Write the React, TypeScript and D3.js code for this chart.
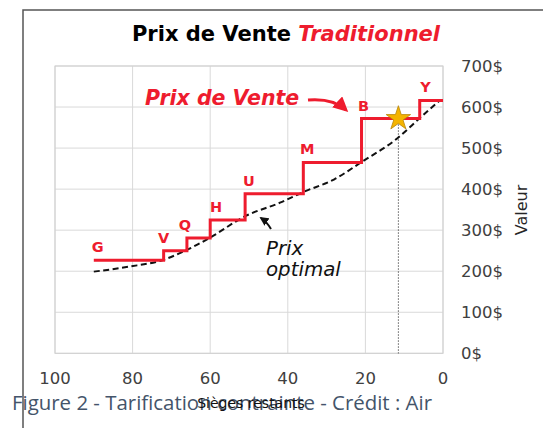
import React from "react";
import * as d3 from "d3";

// ---- data ----
const stepSeats = [90, 72, 66, 60, 51, 36, 21, 6, 0];
const stepValues = [227, 250, 281, 325, 389, 465, 572, 616];
const classLabels = ["G", "V", "Q", "H", "U", "M", "B", "Y"];
const labelSeats = [89, 72, 66.5, 58.5, 50, 35, 20.5, 4.5];

const optimalSeats = [90, 81, 72, 66, 60, 51, 42, 36, 28, 21, 12, 6, 1];
const optimalValues = [199, 211, 228, 252, 282, 334, 367, 393, 424, 466, 522, 573, 615];

const starSeat = 11.5;
const starValue = 572;

const xTicks = [100, 80, 60, 40, 20, 0];
const yTicks = [0, 100, 200, 300, 400, 500, 600, 700];

const RED = "#EE1C2E";
const FONT = "'DejaVu Sans', Verdana, sans-serif";

export default function App() {
  const W = 543, H = 428;
  const left = 55, right = 443, top = 66, bottom = 353.3;
  const x = d3.scaleLinear().domain([100, 0]).range([left, right]);
  const y = d3.scaleLinear().domain([0, 700]).range([bottom, top]);

  // step path
  const stepPts: [number, number][] = [];
  stepValues.forEach((v, i) => {
    stepPts.push([stepSeats[i], v]);
    stepPts.push([stepSeats[i + 1], v]);
  });
  const stepLine = d3
    .line<[number, number]>()
    .x((d) => x(d[0]))
    .y((d) => y(d[1]));
  const stepD = stepLine(stepPts) || "";

  const optLine = d3
    .line<number>()
    .x((_, i) => x(optimalSeats[i]))
    .y((d) => y(d))
    .curve(d3.curveMonotoneX);
  const optD = optLine(optimalValues) || "";

  const star = d3.symbol().type(d3.symbolStar).size(185)() || "";

  const sx = x(starSeat), sy = y(starValue);

  return (
    <svg
      width={W}
      height={H}
      style={{ position: "absolute", left: 0, top: 0, background: "#fff" }}
    >
      <defs>
        <marker id="ah-red" viewBox="0 0 10 10" refX="8" refY="5" markerWidth="5" markerHeight="5" orient="auto">
          <path d="M0,0 L10,5 L0,10 z" fill={RED} />
        </marker>
        <marker id="ah-black" viewBox="0 0 10 10" refX="8" refY="5" markerWidth="4.5" markerHeight="4.5" orient="auto">
          <path d="M0,0 L10,5 L0,10 z" fill="#111" />
        </marker>
      </defs>
      {/* frame */}
      <path d={`M23,428 L23,10 L543,10`} fill="none" stroke="#555" strokeWidth={1.5} />

      {/* title */}
      <text x={286} y={41} textAnchor="middle" fontFamily={FONT} fontSize={21} fontWeight="bold">
        <tspan fill="#000">Prix de Vente </tspan>
        <tspan fill={RED} fontStyle="italic">Traditionnel</tspan>
      </text>

      {/* grid */}
      {yTicks.map((t) => (
        <line key={"gy" + t} x1={left} x2={right} y1={y(t)} y2={y(t)} stroke="#D9D9D9" strokeWidth={1} />
      ))}
      {xTicks.map((t) => (
        <line key={"gx" + t} x1={x(t)} x2={x(t)} y1={top} y2={bottom} stroke="#D9D9D9" strokeWidth={1} />
      ))}
      <rect x={left} y={top} width={right - left} height={bottom - top} fill="none" stroke="#D0D0D0" />

      {/* y ticks right */}
      {yTicks.map((t) => (
        <text key={"ty" + t} x={461} y={y(t) + 6} fontFamily={FONT} fontSize={16.5} fill="#404040">
          {t + "$"}
        </text>
      ))}
      {/* x ticks */}
      {xTicks.map((t) => (
        <text key={"tx" + t} x={x(t)} y={384} textAnchor="middle" fontFamily={FONT} fontSize={16.5} fill="#404040">
          {t}
        </text>
      ))}
      <text
        transform={`translate(527,210) rotate(-90)`}
        textAnchor="middle"
        fontFamily={FONT}
        fontSize={16}
        fill="#262626"
      >
        Valeur
      </text>

      {/* optimal dashed */}
      <path d={optD} fill="none" stroke="#111" strokeWidth={2} strokeDasharray="6,3.5" />

      {/* step line */}
      <path d={stepD} fill="none" stroke={RED} strokeWidth={3} />

      {/* class labels */}
      {classLabels.map((l, i) => (
        <text
          key={l}
          x={x(labelSeats[i])}
          y={y(stepValues[i]) - 8}
          textAnchor="middle"
          fontFamily={FONT}
          fontSize={14.5}
          fontWeight="bold"
          fill={RED}
        >
          {l}
        </text>
      ))}

      {/* dotted vertical + star */}
      <line x1={sx} x2={sx} y1={sy} y2={bottom} stroke="#111" strokeWidth={1} strokeDasharray="1,2" />
      <path d={star} transform={`translate(${sx},${sy})`} fill="#F4B400" stroke="#B8860B" strokeWidth={0.8} />

      {/* Prix de Vente annotation */}
      <text x={145} y={105} fontFamily={FONT} fontSize={20.5} fontWeight="bold" fontStyle="italic" fill={RED}>
        Prix de Vente
      </text>
      <path d="M308,100 Q333,98 346,110" fill="none" stroke={RED} strokeWidth={3} markerEnd="url(#ah-red)" />

      {/* Prix optimal annotation */}
      <text x={266} y={255} fontFamily={FONT} fontSize={19.8} fontStyle="italic" fill="#111">
        Prix
      </text>
      <text x={266} y={276} fontFamily={FONT} fontSize={19.8} fontStyle="italic" fill="#111">
        optimal
      </text>
      <path d="M271,229 Q267,222 261,218" fill="none" stroke="#111" strokeWidth={2} markerEnd="url(#ah-black)" />

      {/* caption */}
      <text
        x={12}
        y={410}
        fontFamily="'Open Sans', sans-serif"
        fontSize={19.5}
        fill="#44546A"
        textLength={420}
        lengthAdjust="spacingAndGlyphs"
      >
        Figure 2 - Tarification contrainte - Crédit : Air
      </text>
      <text x={251} y={408} textAnchor="middle" fontFamily={FONT} fontSize={14} fill="#111">
        Sièges restants
      </text>
    </svg>
  );
}
